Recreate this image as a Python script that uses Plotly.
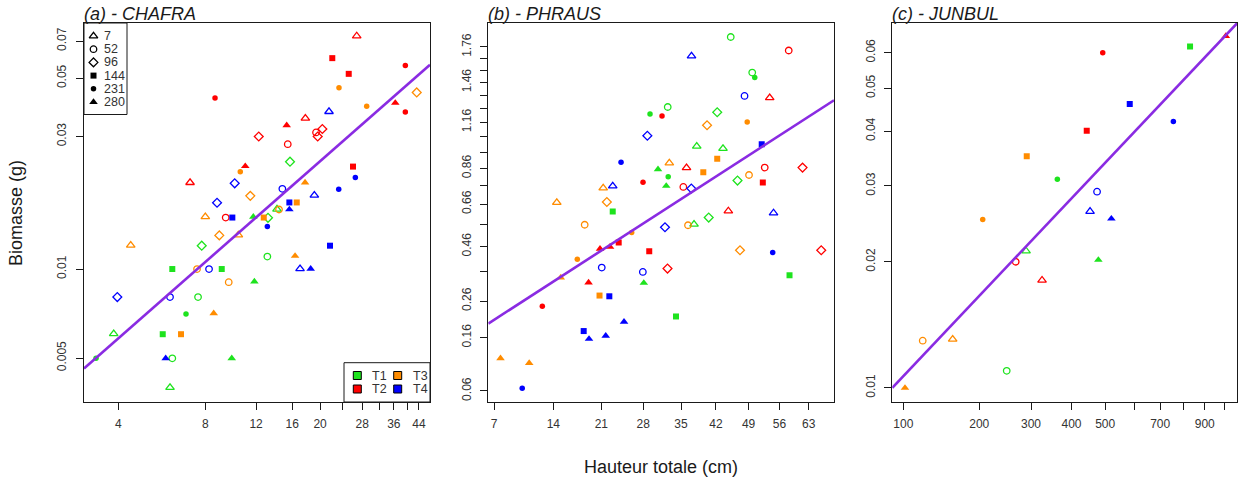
import numpy as np
import plotly.graph_objects as go

W, H = 1240, 481
FONT = "Liberation Sans, Arial, Helvetica, sans-serif"
INK = "#1a1a1a"
LINE_COLOR = "#8A2BE2"

TREATMENTS = ["T1", "T2", "T3", "T4"]
TREATMENT_COLORS = ["#1EE31E", "#FF0000", "#FF8C00", "#0000FF"]
DAYS = [7, 52, 96, 144, 231, 280]
DAY_SYMBOLS = ["triangle-up-open", "circle-open", "diamond-open", "square", "circle", "triangle-up"]
DAY_SIZES = [7.5, 6.5, 6.8, 6, 5.5, 7.5]

# ---------------- (a) CHAFRA ----------------
A_TREAT = ["T1", "T1", "T1", "T1", "T1", "T1", "T1", "T1", "T1", "T1", "T1", "T1", "T1", "T1", "T1", "T1", "T1",
           "T2", "T2", "T2", "T2", "T2", "T2", "T2", "T2", "T2", "T2", "T2", "T2", "T2", "T2", "T2", "T2", "T2", "T2",
           "T3", "T3", "T3", "T3", "T3", "T3", "T3", "T3", "T3", "T3", "T3", "T3", "T3", "T3", "T3", "T3", "T3", "T3",
           "T4", "T4", "T4", "T4", "T4", "T4", "T4", "T4", "T4", "T4", "T4", "T4", "T4", "T4", "T4", "T4", "T4", "T4"]
A_DAY = [7, 7, 7, 52, 52, 52, 96, 96, 96, 144, 144, 144, 231, 231, 280, 280, 280,
         7, 7, 7, 52, 52, 52, 96, 96, 96, 144, 144, 144, 231, 231, 231, 280, 280, 280,
         7, 7, 7, 52, 52, 52, 96, 96, 96, 144, 144, 144, 231, 231, 231, 280, 280, 280,
         7, 7, 7, 52, 52, 52, 96, 96, 96, 144, 144, 144, 231, 231, 231, 280, 280, 280]
A_HEIGHT = [14.18, 3.855, 6.041, 13.13, 7.554, 6.152, 15.73, 13.20, 7.780, 6.152, 9.126, 5.700, 6.862, 3.348, 11.74, 11.84, 9.883,
            26.78, 17.78, 7.088, 19.36, 15.45, 9.42, 20.36, 19.62, 12.26, 22.04, 25.13, 26.0, 8.65, 39.47, 39.47, 36.43, 15.32, 11.01,
            8.006, 10.42, 4.416, 14.41, 7.494, 9.649, 43.22, 11.46, 8.952, 16.60, 12.76, 6.596, 23.25, 29.0, 10.58, 17.74, 16.38, 8.56,
            21.47, 19.10, 17.04, 14.80, 8.247, 6.041, 10.12, 8.790, 3.968, 15.65, 9.931, 21.64, 23.20, 26.49, 13.13, 15.65, 18.55, 5.837]
A_BIOMASS = [0.01625, 0.006019, 0.004003, 0.01105, 0.008009, 0.004989, 0.02418, 0.01514, 0.01206, 0.0100, 0.0100, 0.0060, 0.007015, 0.004989, 0.01526, 0.009055, 0.004989,
             0.0733, 0.03512, 0.02027, 0.03107, 0.02808, 0.01517, 0.0320, 0.0300, 0.0300, 0.0599, 0.0520, 0.0232, 0.04197, 0.05603, 0.03713, 0.04017, 0.03304, 0.02328,
             0.01526, 0.01315, 0.0121, 0.01621, 0.0100, 0.009006, 0.04407, 0.01815, 0.01311, 0.01718, 0.01517, 0.0060, 0.04592, 0.0390, 0.0222, 0.02027, 0.0111, 0.007054,
             0.03723, 0.01824, 0.01002, 0.01924, 0.0100, 0.008009, 0.02015, 0.01714, 0.008009, 0.01718, 0.01517, 0.01206, 0.01918, 0.02118, 0.01411, 0.01621, 0.01002, 0.004989]
A_FIT_HEIGHT = [3.042, 48.05]
A_FIT_BIOMASS = [0.00462, 0.0564]
A_XRANGE = [3.042, 48.05]
A_YRANGE = [0.003594, 0.0826]
A_XTICKS = [4, 8, 12, 16, 20, 24, 28, 32, 36, 40, 44]
A_XLABELS = ["4", "8", "12", "16", "20", "", "28", "", "36", "", "44"]
A_YTICKS = [0.005, 0.01, 0.03, 0.05, 0.07]
A_YLABELS = ["0.005", "0.01", "0.03", "0.05", "0.07"]

# ---------------- (b) PHRAUS ----------------
B_TREAT = ["T1", "T1", "T1", "T1", "T1", "T1", "T1", "T1", "T1", "T1", "T1", "T1", "T1", "T1", "T1", "T1", "T1", "T1",
           "T2", "T2", "T2", "T2", "T2", "T2", "T2", "T2", "T2", "T2", "T2", "T2", "T2", "T2", "T2", "T2", "T2", "T2",
           "T3", "T3", "T3", "T3", "T3", "T3", "T3", "T3", "T3", "T3", "T3", "T3", "T3", "T3", "T3", "T3", "T3", "T3",
           "T4", "T4", "T4", "T4", "T4", "T4", "T4", "T4", "T4", "T4", "T4", "T4", "T4", "T4", "T4", "T4", "T4", "T4"]
B_DAY = [7, 7, 7, 52, 52, 52, 96, 96, 96, 144, 144, 144, 231, 231, 231, 280, 280, 280,
         7, 7, 7, 52, 52, 52, 96, 96, 96, 144, 144, 144, 231, 231, 231, 280, 280, 280,
         7, 7, 7, 52, 52, 52, 96, 96, 96, 144, 144, 144, 231, 231, 231, 280, 280, 280,
         7, 7, 7, 52, 52, 52, 96, 96, 96, 144, 144, 144, 231, 231, 231, 280, 280, 280]
B_HEIGHT = [38.09, 43.48, 37.55, 32.47, 45.12, 49.81, 42.27, 46.58, 40.51, 22.83, 34.04, 58.38, 29.22, 32.56, 50.37, 30.67, 32.19, 28.11,
            36.07, 53.76, 44.61, 35.45, 58.19, 52.62, 32.43, 61.50, 66.09, 23.81, 29.08, 52.19, 31.41, 27.97, 12.56, 22.39, 20.80, 19.03,
            32.77, 21.30, 14.47, 18.45, 36.36, 49.10, 21.88, 40.17, 47.12, 20.72, 42.27, 39.41, 26.00, 17.36, 48.70, 15.01, 7.672, 10.925,
            37.05, 22.83, 54.64, 21.07, 27.94, 48.11, 28.74, 31.96, 37.01, 22.28, 18.30, 51.94, 24.20, 10.09, 54.45, 24.70, 19.10, 21.70]
B_BIOMASS = [0.9972, 0.9824, 0.5599, 1.2708, 1.8499, 1.5404, 1.2318, 0.7879, 0.5921, 0.6223, 0.2145, 0.3468, 1.2187, 0.8098, 1.4995, 0.8539, 0.7574, 0.3194,
             0.8629, 1.3402, 0.6248, 0.7519, 1.7289, 0.8640, 0.3716, 0.8640, 0.4443, 0.4774, 0.4401, 0.7771, 1.2049, 0.7783, 0.2440, 0.4590, 0.4506, 0.3208,
             0.8913, 0.7462, 0.6678, 0.5576, 0.5552, 0.8202, 0.6709, 1.1389, 0.4443, 0.2773, 0.9178, 0.8361, 0.5214, 0.4076, 1.1614, 0.3385, 0.1150, 0.1058,
             1.6800, 0.7574, 0.6148, 0.3754, 0.3589, 1.3540, 1.0668, 0.5458, 0.7435, 0.2750, 0.1759, 1.0103, 0.8962, 0.0638, 0.4352, 0.2000, 0.1567, 0.1643]
B_FIT_HEIGHT = [6.43, 69.3]
B_FIT_BIOMASS = [0.1952, 1.3211]
B_XRANGE = [6.43, 69.3]
B_YRANGE = [0.0458, 1.98]
B_XTICKS = [7, 14, 21, 28, 35, 42, 49, 56, 63]
B_XLABELS = ["7", "14", "21", "28", "35", "42", "49", "56", "63"]
B_YTICKS = [0.06, 0.16, 0.26, 0.36, 0.46, 0.56, 0.66, 0.76, 0.86, 0.96, 1.06, 1.16, 1.26, 1.36, 1.46, 1.56, 1.66, 1.76]
B_YLABELS = ["0.06", "0.16", "0.26", "", "0.46", "", "0.66", "", "0.86", "", "", "1.16", "", "", "1.46", "", "", "1.76"]

# ---------------- (c) JUNBUL ----------------
C_TREAT = ["T2", "T1", "T2", "T4", "T4", "T2", "T3", "T1", "T4", "T4",
           "T4", "T3", "T1", "T2", "T1", "T2", "T3", "T3", "T1", "T3"]
C_DAY = [280, 144, 231, 144, 231, 144, 144, 231, 52, 7,
         280, 231, 7, 52, 280, 7, 52, 7, 52, 280]
C_HEIGHT = [1007.6, 830.1, 492.2, 583.4, 755.5, 443.3, 290.6, 362.7, 474.4, 453.1,
            520.1, 205.8, 289.1, 267.4, 478.4, 325.2, 120.96, 159.3, 249.4, 101.7]
C_BIOMASS = [0.0653, 0.0619, 0.0600, 0.0461, 0.0421, 0.0401, 0.0351, 0.0311, 0.0291, 0.0262,
             0.0252, 0.0251, 0.0212, 0.0200, 0.0202, 0.0181, 0.0130, 0.0131, 0.0110, 0.0100]
C_FIT_HEIGHT = [89.35, 1070]
C_FIT_BIOMASS = [0.0100, 0.0698]
C_XRANGE = [89.35, 1070]
C_YRANGE = [0.00924, 0.0698]
C_XTICKS = [100, 200, 300, 400, 500, 600, 700, 800, 900, 1000]
C_XLABELS = ["100", "200", "300", "400", "500", "", "700", "", "900", ""]
C_YTICKS = [0.01, 0.02, 0.03, 0.04, 0.05, 0.06]
C_YLABELS = ["0.01", "0.02", "0.03", "0.04", "0.05", "0.06"]


def bc(v, lam):
    v = np.asarray(v, dtype=float)
    if lam == 0:
        return np.log(v)
    return (v ** lam - 1.0) / lam


# box-cox exponents of each axis, and panel geometry (pixels)
PANELS = [
    dict(title="(a) - CHAFRA", treat=A_TREAT, day=A_DAY, h=A_HEIGHT, b=A_BIOMASS, fh=A_FIT_HEIGHT, fb=A_FIT_BIOMASS,
         xr=A_XRANGE, yr=A_YRANGE, xt=A_XTICKS, xl=A_XLABELS, yt=A_YTICKS, yl=A_YLABELS,
         lx=0.0, ly=-0.07, px=(84, 430)),
    dict(title="(b) - PHRAUS", treat=B_TREAT, day=B_DAY, h=B_HEIGHT, b=B_BIOMASS, fh=B_FIT_HEIGHT, fb=B_FIT_BIOMASS,
         xr=B_XRANGE, yr=B_YRANGE, xt=B_XTICKS, xl=B_XLABELS, yt=B_YTICKS, yl=B_YLABELS,
         lx=0.6, ly=0.45, px=(488.3, 834)),
    dict(title="(c) - JUNBUL", treat=C_TREAT, day=C_DAY, h=C_HEIGHT, b=C_BIOMASS, fh=C_FIT_HEIGHT, fb=C_FIT_BIOMASS,
         xr=C_XRANGE, yr=C_YRANGE, xt=C_XTICKS, xl=C_XLABELS, yt=C_YTICKS, yl=C_YLABELS,
         lx=0.28, ly=0.05, px=(892.3, 1237.3)),
]
PLOT_TOP, PLOT_BOTTOM = 23, 402

fig = go.Figure()
layout = dict(width=W, height=H, margin=dict(l=0, r=0, t=0, b=0), paper_bgcolor="white",
              plot_bgcolor="rgba(0,0,0,0)", showlegend=False)
annotations = []
shapes = []


def axis_cfg(lam, rng, ticks, labels, domain, anchor, is_y):
    d = dict(domain=domain, range=[float(bc(rng[0], lam)), float(bc(rng[1], lam))], tickmode="array",
             tickvals=[float(bc(t, lam)) for t in ticks], ticktext=labels, ticks="outside", ticklen=7,
             tickwidth=1, tickcolor=INK, showline=True, mirror=True, linecolor=INK, linewidth=1,
             showgrid=False, zeroline=False, anchor=anchor, fixedrange=True,
             tickfont=dict(family=FONT, size=12, color="#333333"))
    if is_y:
        d["tickangle"] = -90
        d["ticklabelstandoff"] = 5
    else:
        d["ticklabelstandoff"] = 4
    return d


for i, p in enumerate(PANELS):
    k = "" if i == 0 else str(i + 1)
    xa, ya = "x" + k, "y" + k
    treat = np.array(p["treat"])
    day = np.array(p["day"])
    hh = np.array(p["h"], dtype=float)
    bb = np.array(p["b"], dtype=float)
    for ti, t in enumerate(TREATMENTS):
        for di, d in enumerate(DAYS):
            m = (treat == t) & (day == d)
            if not m.any():
                continue
            sym = DAY_SYMBOLS[di]
            is_open = sym.endswith("open")
            fig.add_trace(go.Scatter(
                x=bc(hh[m], p["lx"]), y=bc(bb[m], p["ly"]), mode="markers", xaxis=xa, yaxis=ya,
                marker=dict(symbol=sym, size=DAY_SIZES[di], color=TREATMENT_COLORS[ti],
                            line=dict(color=TREATMENT_COLORS[ti], width=1.3 if is_open else 0)),
                hoverinfo="skip"))
    fig.add_trace(go.Scatter(x=bc(p["fh"], p["lx"]), y=bc(p["fb"], p["ly"]), mode="lines",
                             xaxis=xa, yaxis=ya, line=dict(color=LINE_COLOR, width=2.6), hoverinfo="skip"))
    xd = [p["px"][0] / W, p["px"][1] / W]
    yd = [1 - PLOT_BOTTOM / H, 1 - PLOT_TOP / H]
    layout["xaxis" + k] = axis_cfg(p["lx"], p["xr"], p["xt"], p["xl"], xd, ya, False)
    layout["yaxis" + k] = axis_cfg(p["ly"], p["yr"], p["yt"], p["yl"], yd, xa, True)
    annotations.append(dict(text="<i>" + p["title"] + "</i>", x=(p["px"][0] - 2) / W, y=1 - 14 / H,
                            xref="paper", yref="paper", xanchor="left", yanchor="middle", showarrow=False,
                            font=dict(family=FONT, size=18, color=INK)))

# overlay axes in pixel units for the legends
layout["xaxis4"] = dict(domain=[0, 1], range=[0, W], visible=False, anchor="y4", fixedrange=True)
layout["yaxis4"] = dict(domain=[0, 1], range=[H, 0], visible=False, anchor="x4", fixedrange=True)

# legend of sampling days (top-left of panel a)
LEG1_BOX = (84, 23, 127, 114.5)
LEG1_SYM_X, LEG1_TXT_X, LEG1_Y0, LEG1_DY = 93.5, 101.5, 36, 13.2
shapes.append(dict(type="rect", xref="x4", yref="y4", x0=LEG1_BOX[0], y0=LEG1_BOX[1], x1=LEG1_BOX[2], y1=LEG1_BOX[3],
                   line=dict(color=INK, width=1), fillcolor="rgba(0,0,0,0)"))
for di, d in enumerate(DAYS):
    yy = LEG1_Y0 + di * LEG1_DY
    sym = DAY_SYMBOLS[di]
    fig.add_trace(go.Scatter(x=[LEG1_SYM_X], y=[yy], mode="markers", xaxis="x4", yaxis="y4", hoverinfo="skip",
                             marker=dict(symbol=sym, size=DAY_SIZES[di], color="black",
                                         line=dict(color="black", width=1.3 if sym.endswith("open") else 0))))
    annotations.append(dict(text=str(d), x=LEG1_TXT_X, y=yy, xref="x4", yref="y4", xanchor="left",
                            yanchor="middle", showarrow=False, font=dict(family=FONT, size=12.5, color="#333333")))

# legend of treatments (bottom-right of panel a)
LEG2_BOX = (344, 362.7, 430, 402)
LEG2_COL_X = [357.3, 397.7]
LEG2_ROW_Y = [375.5, 389]
shapes.append(dict(type="rect", xref="x4", yref="y4", x0=LEG2_BOX[0], y0=LEG2_BOX[1], x1=LEG2_BOX[2], y1=LEG2_BOX[3],
                   line=dict(color=INK, width=1), fillcolor="rgba(0,0,0,0)"))
for ti, t in enumerate(TREATMENTS):
    cx = LEG2_COL_X[ti // 2]
    cy = LEG2_ROW_Y[ti % 2]
    fig.add_trace(go.Scatter(x=[cx], y=[cy], mode="markers", xaxis="x4", yaxis="y4", hoverinfo="skip",
                             marker=dict(symbol="square", size=8, color=TREATMENT_COLORS[ti],
                                         line=dict(color="black", width=1))))
    annotations.append(dict(text=t, x=cx + 13, y=cy, xref="x4", yref="y4", xanchor="left", yanchor="middle",
                            showarrow=False, font=dict(family=FONT, size=12.5, color="#333333")))

# axis titles
annotations.append(dict(text="Hauteur totale (cm)", x=661 / W, y=1 - 466.5 / H, xref="paper", yref="paper",
                        xanchor="center", yanchor="middle", showarrow=False,
                        font=dict(family=FONT, size=18, color=INK)))
annotations.append(dict(text="Biomasse (g)", x=16 / W, y=1 - 213 / H, xref="paper", yref="paper",
                        xanchor="center", yanchor="middle", showarrow=False, textangle=-90,
                        font=dict(family=FONT, size=18, color=INK)))

layout["annotations"] = annotations
layout["shapes"] = shapes
fig.update_layout(**layout)
fig.write_html("out.html")
